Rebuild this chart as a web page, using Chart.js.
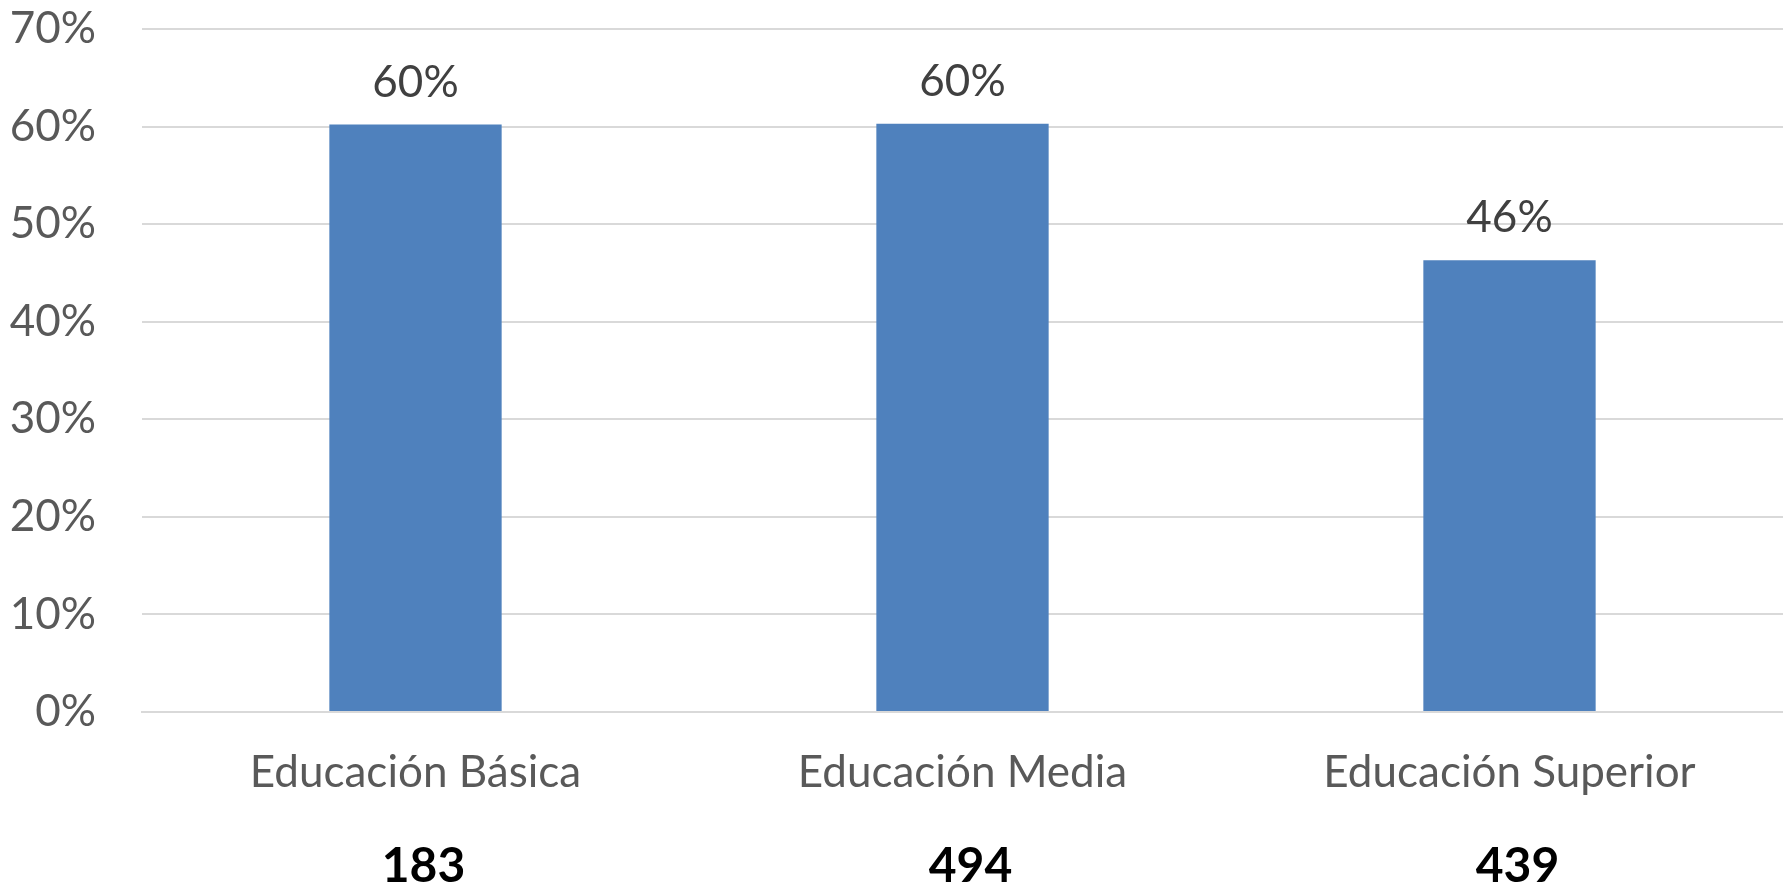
<!DOCTYPE html>
<html>
<head>
<meta charset="utf-8">
<script src="https://cdn.jsdelivr.net/npm/chart.js@4"></script>
<style>
  html, body { margin: 0; padding: 0; background: #fff; }
  #wrap { width: 1783px; height: 888px; }
</style>
</head>
<body>
<div id="wrap"><canvas id="chart"></canvas></div>
<script>
const categories = ['Educación Básica', 'Educación Media', 'Educación Superior'];
const percentValues = [60.2, 60.3, 46.3];
const percentLabels = ['60%', '60%', '46%'];
const totals = ['183', '494', '439'];
const yTicks = [0, 10, 20, 30, 40, 50, 60, 70];

Chart.defaults.font.family = "Lato";

// draws the "60%" text above each bar
const barLabels = {
  id: 'barLabels',
  afterDatasetsDraw(chart) {
    const ctx = chart.ctx;
    const meta = chart.getDatasetMeta(0);
    ctx.save();
    ctx.font = '44px Lato';
    ctx.fillStyle = '#404040';
    ctx.textAlign = 'center';
    ctx.textBaseline = 'bottom';
    meta.data.forEach(function(bar, i) {
      ctx.fillText(percentLabels[i], bar.x, bar.y - 20);
    });
    ctx.restore();
  }
};

new Chart(document.getElementById('chart'), {
  type: 'bar',
  data: {
    labels: categories,
    datasets: [{
      data: percentValues,
      backgroundColor: '#4F81BD',
      borderWidth: 0,
      barPercentage: 0.63,
      categoryPercentage: 0.5
    }]
  },
  options: {
    responsive: true,
    maintainAspectRatio: false,
    animation: false,
    layout: { padding: { top: 29, right: 0, bottom: 0, left: 0 } },
    plugins: {
      legend: { display: false },
      tooltip: { enabled: false }
    },
    scales: {
      y: {
        min: 0,
        max: 70,
        afterBuildTicks: function(axis) {
          axis.ticks = yTicks.map(v => ({ value: v }));
        },
        afterFit: function(axis) {
          axis.width = 142;
          axis.paddingTop = 0;
        },
        grid: {
          color: '#D9D9D9',
          lineWidth: 2,
          drawTicks: true,
          tickLength: 46,
          tickColor: 'rgba(0,0,0,0)'
        },
        border: { display: false },
        ticks: {
          padding: 0,
          color: '#595959',
          font: { size: 44 },
          callback: function(value) { return value + '%'; }
        }
      },
      x: {
        position: 'bottom',
        weight: 0,
        afterFit: function(axis) { axis.height = 88; },
        grid: { display: false, drawTicks: false },
        border: { display: true, color: '#D9D9D9', width: 2 },
        ticks: {
          padding: 34,
          color: '#595959',
          font: { size: 44 },
          maxRotation: 0,
          autoSkip: false
        }
      },
      x2: {
        type: 'category',
        labels: totals,
        position: 'bottom',
        weight: 1,
        afterFit: function(axis) { axis.height = 88; },
        grid: { display: false, drawTicks: false },
        border: { display: false },
        ticks: {
          padding: 38,
          labelOffset: 8,
          color: '#000000',
          font: { size: 48, weight: 'bold' },
          maxRotation: 0,
          autoSkip: false
        }
      }
    }
  },
  plugins: [barLabels]
});
</script>
</body>
</html>
